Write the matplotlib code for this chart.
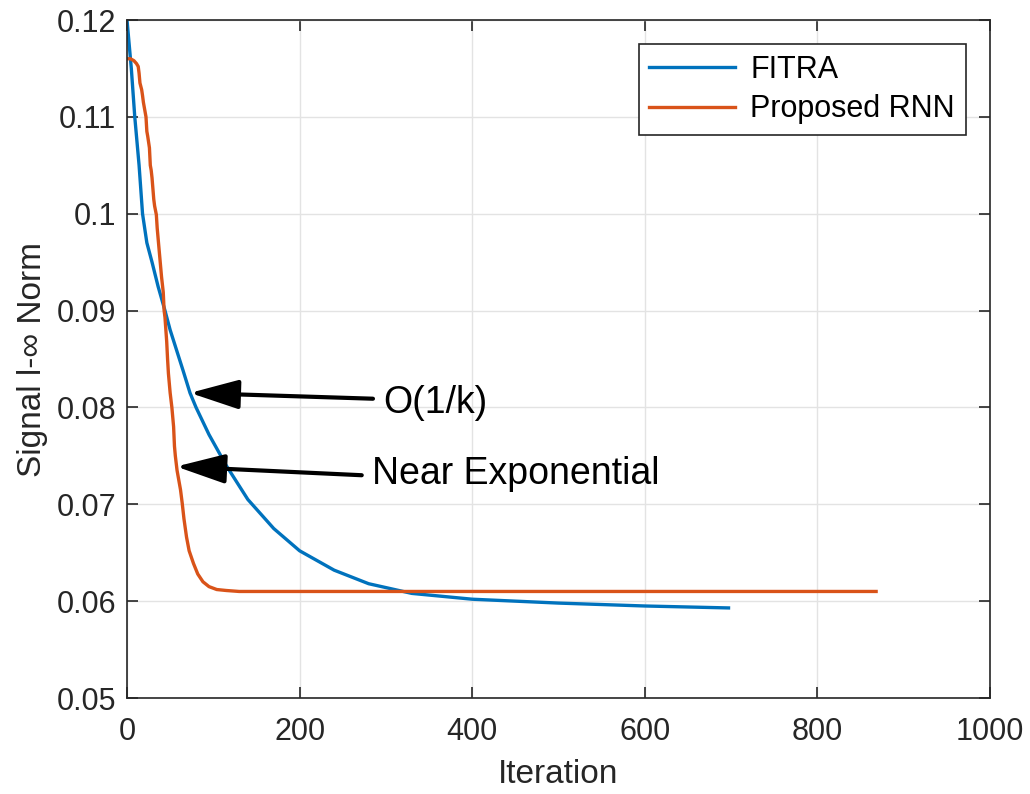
import numpy as np
from matplotlib import pyplot as plt

plt.rcParams['font.family'] = ['Liberation Sans', 'DejaVu Sans']

# FITRA
fitra_iter = [0, 5, 9, 14, 18, 23, 29, 36, 44, 50, 55, 65, 73, 80, 95, 115,
              140, 170, 200, 240, 280, 330, 400, 500, 600, 697]
fitra_val = [0.1200, 0.1150, 0.1100, 0.1050, 0.1000, 0.0970, 0.0950, 0.0925,
             0.0900, 0.0880, 0.0866, 0.0838, 0.0815, 0.0800, 0.0772, 0.0740,
             0.0705, 0.0675, 0.0652, 0.0632, 0.0618, 0.0608, 0.0602, 0.0598,
             0.0595, 0.0593]

# Proposed RNN
rnn_iter = [0, 4, 8, 11, 13, 14, 15, 17, 18, 19, 20, 22, 23, 24, 26, 27, 28,
            29, 31, 32, 34, 35, 36, 37, 39, 40, 42, 43, 44, 46, 47, 48, 50, 52,
            54, 55, 56, 58, 60, 62, 64, 66, 69, 72, 77, 82, 88, 95, 104, 115,
            130, 868]
rnn_val = [0.1160, 0.1160, 0.1158, 0.1155, 0.1152, 0.1145, 0.1135, 0.1128,
           0.1122, 0.1115, 0.1110, 0.1100, 0.1085, 0.1080, 0.1068, 0.1050,
           0.1045, 0.1037, 0.1015, 0.1008, 0.0999, 0.0985, 0.0975, 0.0965,
           0.0945, 0.0935, 0.0919, 0.0900, 0.0893, 0.0868, 0.0850, 0.0835,
           0.0815, 0.0800, 0.0780, 0.0760, 0.0750, 0.0735, 0.0725, 0.0715,
           0.0701, 0.0685, 0.0666, 0.0652, 0.0639, 0.0628, 0.0620, 0.0615,
           0.0612, 0.0611, 0.0610, 0.0610]

fig = plt.figure(figsize=(10.3, 7.94), dpi=100)
ax = fig.add_axes([0.1233, 0.1209, 0.8379, 0.8539])

ax.plot(fitra_iter, fitra_val, color='#0072BD', lw=2.4, label='FITRA')
ax.plot(rnn_iter, rnn_val, color='#D95319', lw=2.4, label='Proposed RNN')

ax.set_xlim(0, 1000)
ax.set_ylim(0.05, 0.12)
ax.set_xticks(np.arange(0, 1001, 200))
ax.set_yticks(np.arange(0.05, 0.1201, 0.01))
ax.set_yticklabels(['0.05', '0.06', '0.07', '0.08', '0.09', '0.1', '0.11', '0.12'])
ax.grid(True, color='#e3e3e3', lw=1.0)
ax.set_axisbelow(True)
ax.tick_params(direction='in', length=8, width=1.2, labelsize=22, colors='#262626',
               top=True, right=True)
ax.tick_params(axis='x', pad=14)
ax.tick_params(axis='y', pad=8)
for s in ax.spines.values():
    s.set_color('#262626')
    s.set_linewidth(1.2)

ax.set_xlabel('Iteration', fontsize=24, color='#262626', labelpad=8)
ax.set_ylabel('Signal l-\u221e Norm', fontsize=24, color='#262626', labelpad=6)

leg = ax.legend(loc='upper right', fontsize=22, fancybox=False, framealpha=1,
                edgecolor='#262626', borderaxespad=0.8, handlelength=2.8,
                borderpad=0.35, labelspacing=0.3, handletextpad=0.5)
leg.get_frame().set_linewidth(1.2)

arrow = dict(arrowstyle='-|>,head_length=1.5,head_width=0.45', color='black',
             lw=3.0, mutation_scale=20, shrinkA=0, shrinkB=0)
ax.annotate('', xy=(73, 0.0815), xytext=(285, 0.0809), arrowprops=arrow)
ax.text(297, 0.0805, 'O(1/k)', fontsize=27, va='center', ha='left')
ax.annotate('', xy=(57, 0.0739), xytext=(272, 0.0730), arrowprops=arrow)
ax.text(284, 0.0731, 'Near Exponential', fontsize=27, va='center', ha='left')

plt.savefig('out.png', dpi=100)
